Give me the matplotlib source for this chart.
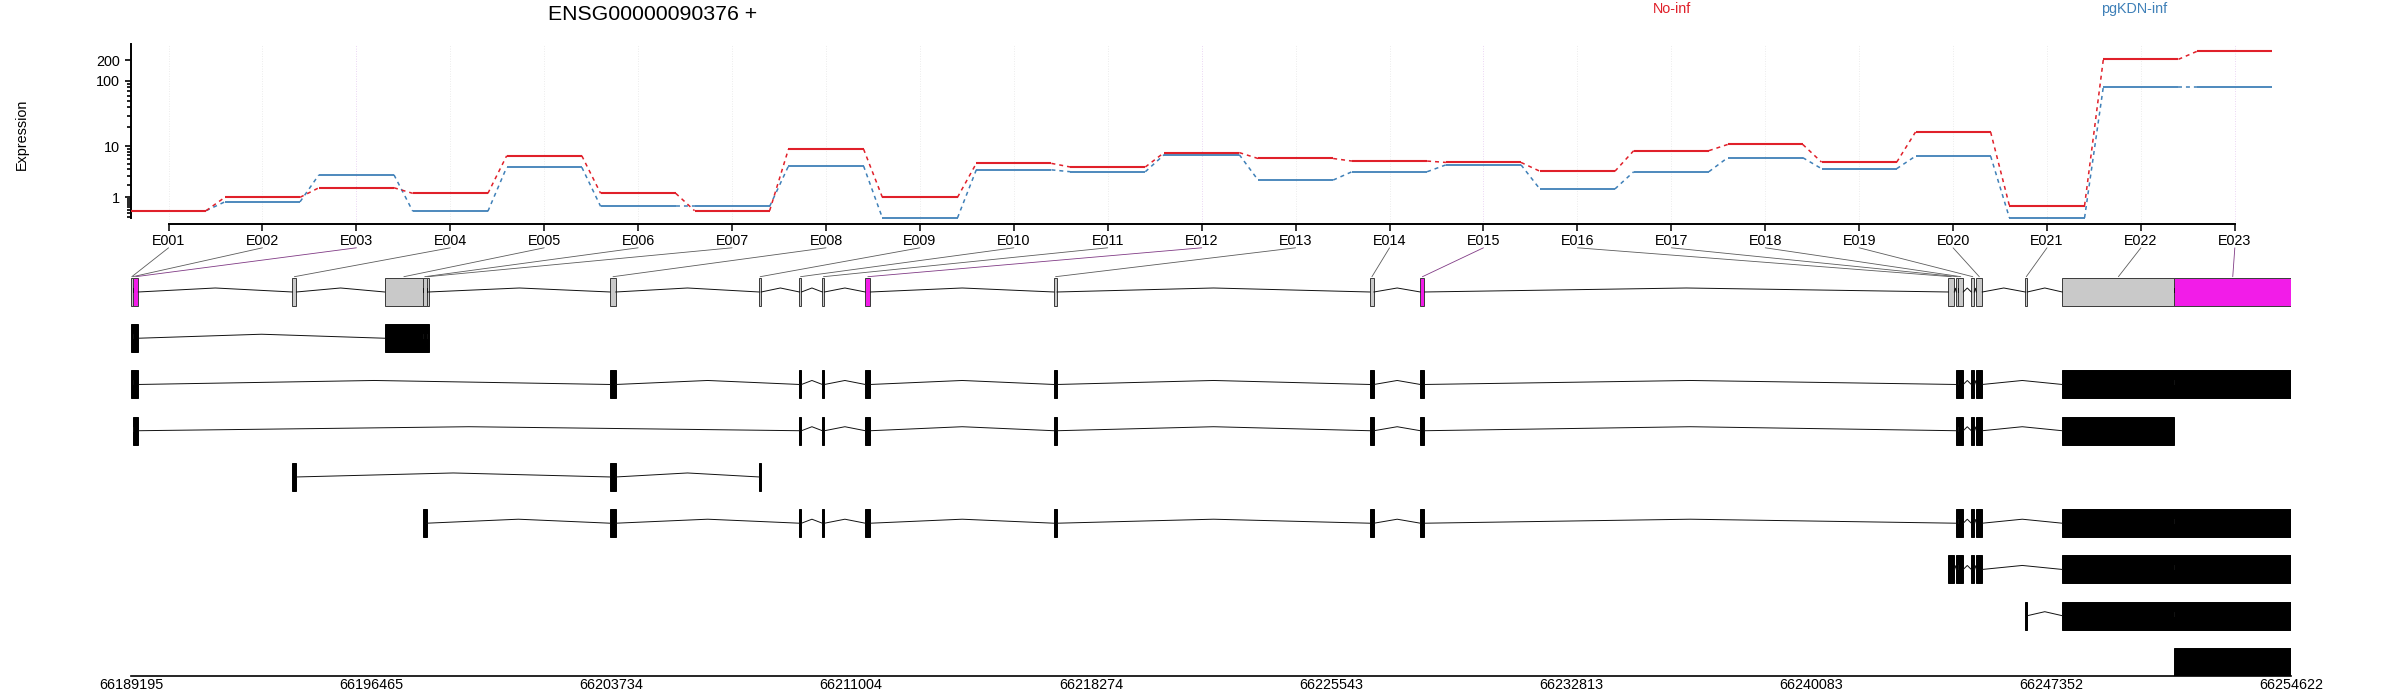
import numpy as np
import matplotlib
matplotlib.use("Agg")
import matplotlib.pyplot as plt
from matplotlib.patches import ConnectionPatch
from matplotlib.ticker import NullFormatter
from matplotlib.transforms import blended_transform_factory as blend

plt.rcParams['font.family'] = ['Liberation Sans', 'DejaVu Sans']

# ---------- data ----------
title = "ENSG00000090376 +"
group_names = ["No-inf", "pgKDN-inf"]
exon_names = ["E%03d" % i for i in range(1, 24)]
no_inf = [0.38, 1.0, 1.7, 1.26, 6.9, 1.26, 0.38, 8.9, 1.0, 5.1, 4.4, 7.8,
          6.2, 5.6, 5.3, 3.68, 8.4, 10.6, 5.36, 16.7, 0.567, 208, 274]
pgkdn_inf = [0.38, 0.75, 3.14, 0.36, 4.34, 0.54, 0.54, 4.57, 0.18, 3.9, 3.6, 7.2,
             2.48, 3.6, 4.8, 1.6, 3.6, 6.4, 4.1, 6.8, 0.18, 81.4, 81.4]
y_major = [1, 10, 100, 200]
y_minor = [0.2, 0.3, 0.4, 0.5, 0.6, 0.7, 0.8, 0.9, 2, 3, 4, 5, 6, 7, 8, 9,
           20, 30, 40, 50, 60, 70, 80, 90]
genome_ticks = [66189195, 66196465, 66203734, 66211004, 66218274,
                66225543, 66232813, 66240083, 66247352, 66254622]
gene_start = 66189195
# exon offsets from the gene start (bp)
exon_start = [0, 48, 60, 4886, 7685, 8845, 8951, 14515, 19028, 20249, 20942, 22242,
              27958, 37526, 39056, 55046, 55288, 55349, 55743, 55894, 57378, 58499, 61898]
exon_end = [48, 60, 221, 5010, 8845, 8951, 9014, 14685, 19089, 20309, 21006, 22396,
            28052, 37650, 39180, 55228, 55349, 55500, 55834, 56076, 57439, 61898, 65427]
sig_exons = [3, 12, 15, 23]
transcripts = [
    [1, 2, 3, 5, 6, 7],
    [1, 2, 3, 8, 10, 11, 12, 13, 14, 15, 17, 18, 19, 20, 22, 23],
    [2, 3, 10, 11, 12, 13, 14, 15, 17, 18, 19, 20, 22],
    [4, 8, 9],
    [6, 8, 10, 11, 12, 13, 14, 15, 17, 18, 19, 20, 22, 23],
    [16, 17, 18, 19, 20, 22, 23],
    [21, 22, 23],
    [23],
]

# ---------- style ----------
W, H = 2400, 700
RED, BLUE = "#E0202A", "#3F80B8"
MAGENTA, GRAY = "#F21CE8", "#C9C9C9"
FS = 10.4

def fx(px): return px / W
def fy(py): return 1 - py / H
def axes_px(l, t, r, b):
    return [fx(l), fy(b), (r - l) / W, (b - t) / H]

A = 0.45
def vst(v):
    v = np.maximum(np.asarray(v, dtype=float), 0)
    return 2 * np.arcsinh(np.sqrt(A * v)) / np.log(10)
def ivst(u):
    return np.sinh(np.asarray(u, dtype=float) * np.log(10) / 2) ** 2 / A

fig = plt.figure(figsize=(24, 7), dpi=100, facecolor="white")

# ---------- expression panel ----------
ax = fig.add_axes(axes_px(131, 44, 2272.4, 224))
ax.set_yscale("function", functions=(vst, ivst))
ax.set_xlim(0.6, 23.4)
ax.set_ylim(0.07, 350)
x = np.arange(1, 24)
for xi in x:
    c = "#e4c8f0" if xi in sig_exons else "#e6e6e6"
    ax.axvline(xi, color=c, lw=0.6, ls=(0, (1, 2)), zorder=0)
for vals, col in ((pgkdn_inf, BLUE), (no_inf, RED)):
    for i, v in enumerate(vals):
        ax.plot([x[i] - 0.4, x[i] + 0.4], [v, v], color=col, lw=1.5 if col == RED else 1.3,
                solid_capstyle="butt", zorder=3)
        if i < len(vals) - 1:
            ax.plot([x[i] + 0.4, x[i + 1] - 0.4], [v, vals[i + 1]], color=col, lw=1.1,
                    ls=(0, (2.6, 2.6)), zorder=2)
for s in ("top", "right"):
    ax.spines[s].set_visible(False)
ax.spines["left"].set_bounds(0.18, 350)
ax.spines["bottom"].set_bounds(1, 23)
ax.spines["left"].set_linewidth(1.4)
ax.spines["bottom"].set_linewidth(1.4)
ax.set_yticks(y_major, [str(v) for v in y_major], fontsize=FS)
ax.set_yticks(y_minor, minor=True)
ax.yaxis.set_minor_formatter(NullFormatter())
ax.tick_params(axis="y", which="major", length=4.4, width=1.2, pad=3.5)
ax.tick_params(axis="y", which="minor", length=3.2, width=1.2, left=True)
ax.set_xticks(x, exon_names, fontsize=FS)
ax.tick_params(axis="x", length=5, width=1.1, pad=2)
ax.patch.set_alpha(0)

# ---------- gene model panel ----------
ROW_H, PEAK = 0.605, 0.0865
axm = fig.add_axes(axes_px(131, 278, 2291, 675.7))
axm.set_xlim(genome_ticks[0], genome_ticks[-1])
axm.set_ylim(8.6, 0)
starts = np.array(exon_start) + gene_start
ends = np.array(exon_end) + gene_start

def draw_row(row, ids, color_for, merge):
    c = row + ROW_H / 2
    for a, b in zip(ids[:-1], ids[1:]):
        s, e = ends[a - 1], starts[b - 1]
        axm.plot([s, (s + e) / 2, e], [c, c - PEAK, c], color="#111111", lw=0.7, zorder=4,
                 solid_joinstyle="miter")
    runs = []
    for k in ids:
        if merge and runs and ends[runs[-1][-1] - 1] == starts[k - 1]:
            runs[-1].append(k)
        else:
            runs.append([k])
    for run in runs:
        fc, ec = color_for(run[0])
        axm.bar(starts[run[0] - 1], ROW_H, width=ends[run[-1] - 1] - starts[run[0] - 1], bottom=row,
                align="edge", facecolor=fc, edgecolor=ec, linewidth=0.7, zorder=3)

merged_color = lambda k: (MAGENTA if k in sig_exons else GRAY, "#3a3a3a")
draw_row(0, list(range(1, 24)), merged_color, False)
for r, ids in enumerate(transcripts, start=1):
    draw_row(r, ids, lambda k: ("black", "black"), True)

for s in ("top", "right", "left"):
    axm.spines[s].set_visible(False)
axm.spines["bottom"].set_linewidth(1.2)
axm.set_yticks([])
axm.set_xticks(genome_ticks, [str(t) for t in genome_ticks], fontsize=FS)
axm.tick_params(axis="x", length=0, pad=2)
axm.patch.set_alpha(0)

# ---------- connectors from labels to exons ----------
trA = blend(ax.transData, fig.transFigure)
trB = blend(axm.transData, fig.transFigure)
for i in range(23):
    col = "#803a85" if (i + 1) in sig_exons else "#5c5c5c"
    con = ConnectionPatch(xyA=(x[i], fy(247.8)), coordsA=trA,
                          xyB=((starts[i] + ends[i]) / 2, fy(276.7)), coordsB=trB,
                          color=col, lw=0.6, zorder=1)
    fig.add_artist(con)

# ---------- texts ----------
fig.text(fx(548.5), fy(15), title, fontsize=15.3, ha="left", va="center")
fig.text(fx(1672), fy(9), group_names[0], fontsize=FS, color=RED, ha="center", va="center")
fig.text(fx(2134), fy(9), group_names[1], fontsize=FS, color=BLUE, ha="center", va="center")
fig.text(fx(21.5), fy(134), "Expression", fontsize=FS, rotation=90, ha="center", va="center")

fig.savefig("out.png", dpi=100)
